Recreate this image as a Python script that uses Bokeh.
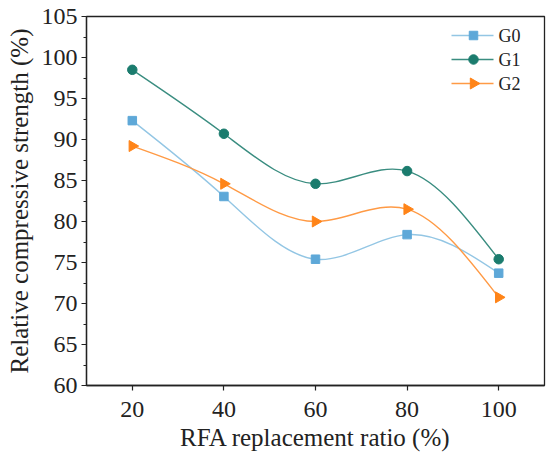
import numpy as np
from bokeh.plotting import figure
from bokeh.models import FixedTicker, Range1d
from bokeh.core.properties import value
from bokeh.embed import file_html
from bokeh.resources import INLINE

ratio = [20, 40, 60, 80, 100]
g0 = [92.3, 83.05, 75.4, 78.4, 73.7]
g1 = [98.5, 90.7, 84.6, 86.15, 75.4]
g2 = [89.2, 84.6, 80.0, 81.5, 70.75]
series_names = ["G0", "G1", "G2"]
y_ticks = [60, 65, 70, 75, 80, 85, 90, 95, 100, 105]
x_ticks = [20, 40, 60, 80, 100]

FONT = "Liberation Serif"
W, H = 550, 460
BL, BT, BR, BB = 86, 16, 6, 75
FW, FH = W - BL - BR, H - BT - BB


def spline_slopes(x, y):
    # natural cubic spline first derivatives at the knots (for drawing the smooth line)
    x = np.asarray(x, float)
    y = np.asarray(y, float)
    n = len(x)
    h = np.diff(x)
    A = np.zeros((n, n))
    r = np.zeros(n)
    A[0, 0] = 1
    A[-1, -1] = 1
    for i in range(1, n - 1):
        A[i, i - 1] = h[i - 1]
        A[i, i] = 2 * (h[i - 1] + h[i])
        A[i, i + 1] = h[i]
        r[i] = 6 * ((y[i + 1] - y[i]) / h[i] - (y[i] - y[i - 1]) / h[i - 1])
    M = np.linalg.solve(A, r)
    m = np.zeros(n)
    for i in range(n - 1):
        m[i] = (y[i + 1] - y[i]) / h[i] - h[i] * (2 * M[i] + M[i + 1]) / 6
    i = n - 2
    m[n - 1] = (y[i + 1] - y[i]) / h[i] + h[i] * (M[i] + 2 * M[i + 1]) / 6
    return m


p = figure(width=W, height=H, output_backend="svg", toolbar_location=None,
           x_range=Range1d(10, 110), y_range=Range1d(60, 105),
           min_border_left=BL, min_border_right=BR, min_border_top=BT,
           min_border_bottom=BB)
p.extra_x_ranges = {"px": Range1d(0, FW)}
p.extra_y_ranges = {"py": Range1d(0, FH)}
p.background_fill_color = "white"
p.border_fill_color = "white"
p.xgrid.visible = False
p.ygrid.visible = False
p.outline_line_color = "#222222"
p.outline_line_width = 1.3

styles = [
    ("#5ea8d8", "#93c6e4", "square", 8.5, 0.0),
    ("#1b7c6e", "#3a8d80", "circle", 9.5, 0.0),
    ("#ff8418", "#ff9a45", "triangle", 11, -np.pi / 2),
]

# legend geometry (frame pixels, measured from bottom-left of the frame)
LEG_X0, LEG_X1, LEG_MX, LEG_TX = 365, 407, 387, 412
LEG_Y = [FH - 19, FH - 43, FH - 67]

for k, (name, ys, (mc, lc, mk, sz, ang)) in enumerate(zip(series_names, [g0, g1, g2], styles)):
    xs = np.asarray(ratio, float)
    yv = np.asarray(ys, float)
    m = spline_slopes(xs, yv)
    h = np.diff(xs)
    p.bezier(x0=xs[:-1], y0=yv[:-1], x1=xs[1:], y1=yv[1:],
             cx0=xs[:-1] + h / 3, cy0=yv[:-1] + h * m[:-1] / 3,
             cx1=xs[1:] - h / 3, cy1=yv[1:] - h * m[1:] / 3,
             line_color=lc, line_width=1.4)
    p.scatter(x=ratio, y=ys, marker=mk, size=sz, angle=ang,
              fill_color=mc, line_color=mc)
    # legend entry
    ly = LEG_Y[k]
    p.segment(x0=[LEG_X0], y0=[ly], x1=[LEG_X1], y1=[ly], line_color=lc,
              line_width=1.4, x_range_name="px", y_range_name="py")
    p.scatter(x=[LEG_MX], y=[ly], marker=mk, size=sz, angle=ang,
              fill_color=mc, line_color=mc, x_range_name="px", y_range_name="py")
    p.text(x=[LEG_TX], y=[ly], text=[name], text_font=value(FONT),
           text_font_size="18px", text_color="#222222", text_baseline="middle",
           text_align="left", x_range_name="px", y_range_name="py")

for ax in (p.xaxis[0], p.yaxis[0]):
    ax.axis_line_color = "#222222"
    ax.axis_line_width = 1.3
    ax.major_tick_line_color = "#222222"
    ax.major_tick_line_width = 1.2
    ax.minor_tick_line_color = "#222222"
    ax.minor_tick_line_width = 1.2
    ax.major_tick_in = 0
    ax.major_tick_out = 5
    ax.minor_tick_in = 0
    ax.minor_tick_out = 3
    ax.major_label_text_font = FONT
    ax.major_label_text_font_size = "24px"
    ax.major_label_text_color = "#222222"
    ax.axis_label_text_font = FONT
    ax.axis_label_text_font_size = "25px"
    ax.axis_label_text_font_style = "normal"
    ax.axis_label_text_color = "#222222"

p.xaxis.ticker = FixedTicker(ticks=x_ticks)
p.yaxis.ticker = FixedTicker(ticks=y_ticks,
                             minor_ticks=[v + 2.5 for v in y_ticks[:-1]])
p.xaxis.axis_label = "RFA replacement ratio (%)"
p.yaxis.axis_label = "Relative compressive strength (%)"
p.xaxis.major_label_standoff = 11
p.xaxis.axis_label_standoff = 4
p.yaxis.major_label_standoff = 4
p.yaxis.axis_label_standoff = 6

open("out.html", "w").write(file_html(p, INLINE))
